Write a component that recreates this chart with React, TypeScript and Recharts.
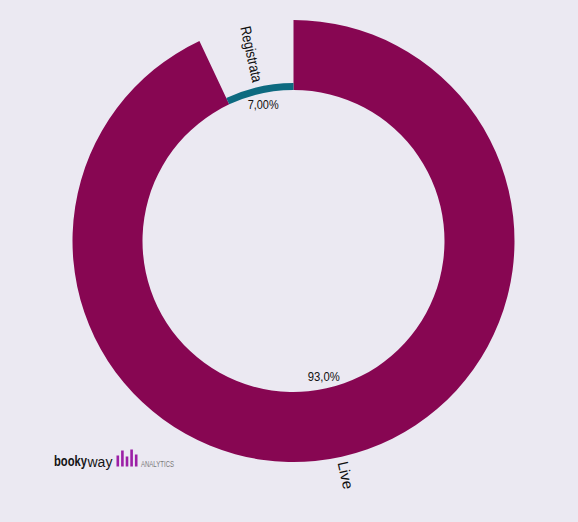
import React from "react";
import { PieChart, Pie, Cell } from "recharts";

const categories = ["Live", "Registrata"];
const values = [93, 7];
const percentLabels = ["93,0%", "7,00%"];
const colors = ["#870652", "#0d6a80"];

const data = categories.map((name, i) => ({ name, value: values[i] }));

const RAD = Math.PI / 180;
const CX = 293.5;
const CY = 241;
const FONT = "'Liberation Sans', Arial, sans-serif";
const nameLen: Record<string, number> = { Live: 28, Registrata: 57 };
const pctLen = [32, 31];

const nameLabel = (props: any) => {
  const { cx, cy, midAngle, outerRadius, name } = props;
  const a = -midAngle * RAD;
  const r = outerRadius + 5;
  const x = cx + r * Math.cos(a);
  const y = cy + r * Math.sin(a);
  let rot = -midAngle;
  let anchor: "start" | "end" = "start";
  if (Math.cos(a) < 0) {
    rot = rot + 180;
    anchor = "end";
  }
  return (
    <text
      x={x}
      y={y}
      transform={`rotate(${rot} ${x} ${y})`}
      textAnchor={anchor}
      dominantBaseline="central"
      fontFamily={FONT}
      fontSize={15}
      textLength={nameLen[name]}
      lengthAdjust="spacingAndGlyphs"
      fill="#111"
    >
      {name}
    </text>
  );
};

const pctLabel = (props: any) => {
  const { cx, cy, midAngle, index } = props;
  const a = -midAngle * RAD;
  const r = 139;
  const x = cx + r * Math.cos(a);
  const y = cy + r * Math.sin(a);
  return (
    <text
      x={x}
      y={y}
      textAnchor="middle"
      dominantBaseline="central"
      fontFamily={FONT}
      fontSize={12.5}
      textLength={pctLen[index]}
      lengthAdjust="spacingAndGlyphs"
      fill="#111"
    >
      {percentLabels[index]}
    </text>
  );
};

const liveLabel = (props: any) => (props.index === 0 ? <g>{nameLabel(props)}{pctLabel(props)}</g> : null);
const regLabel = (props: any) => (props.index === 1 ? <g>{nameLabel(props)}{pctLabel(props)}</g> : null);

const logoBars = [11, 16, 10, 17, 12];

export default function App() {
  return (
    <div
      style={{
        position: "fixed",
        left: 0,
        top: 0,
        width: 578,
        height: 522,
        background: "#ebe9f2",
      }}
    >
      <PieChart width={578} height={522} margin={{ top: 0, right: 0, bottom: 0, left: 0 }}>
        <Pie
          data={data}
          dataKey="value"
          nameKey="name"
          cx={CX}
          cy={CY}
          innerRadius={151}
          outerRadius={221}
          startAngle={90}
          endAngle={-270}
          stroke="none"
          isAnimationActive={false}
          label={liveLabel}
          labelLine={false}
        >
          {data.map((d, i) => (
            <Cell key={d.name} fill={i === 0 ? colors[0] : "transparent"} />
          ))}
        </Pie>
        <Pie
          data={data}
          dataKey="value"
          nameKey="name"
          cx={CX}
          cy={CY}
          innerRadius={151}
          outerRadius={158}
          startAngle={90}
          endAngle={-270}
          stroke="none"
          isAnimationActive={false}
          label={regLabel}
          labelLine={false}
        >
          {data.map((d, i) => (
            <Cell key={d.name} fill={i === 1 ? colors[1] : "transparent"} />
          ))}
        </Pie>
      </PieChart>
      <svg
        width={160}
        height={34}
        style={{ position: "absolute", left: 50, top: 440 }}
      >
        <text
          x={4 / 0.8}
          y={26.5}
          transform="scale(0.8 1)"
          fontFamily="'Liberation Sans', Arial, sans-serif"
          fontSize={14}
          fontWeight="bold"
          fill="#151515"
        >
          booky
        </text>
        <text
          x={37.5}
          y={26.5}
          fontFamily="'Liberation Sans', Arial, sans-serif"
          fontSize={14}
          fill="#151515"
        >
          way
        </text>
        {logoBars.map((h, i) => (
          <rect key={i} x={66.5 + i * 4.6} y={26.5 - h} width={2.6} height={h} fill="#9c1fa6" />
        ))}
        <text
          x={91}
          y={26.5}
          fontFamily={FONT}
          fontSize={9}
          fill="#7a7a7a"
          textLength={33}
          lengthAdjust="spacingAndGlyphs"
        >
          ANALYTICS
        </text>
      </svg>
    </div>
  );
}
